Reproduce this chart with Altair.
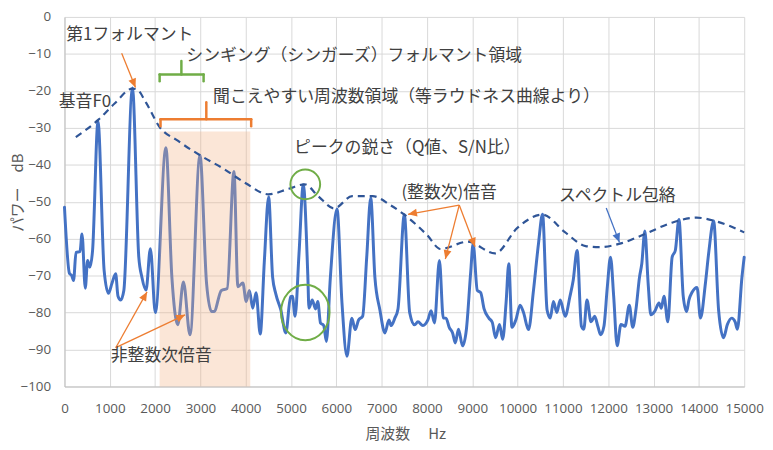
import math
import altair as alt
import pandas as pd

# ---------------- data ----------------
freq = [0, 110, 160, 200, 255, 343, 387, 459, 510, 560, 620, 740, 875, 970, 1050,
        1130, 1180, 1240, 1310, 1500, 1640, 1710, 1800, 1896, 2005, 2238, 2370,
        2500, 2625, 2770, 2990, 3135, 3245, 3300, 3463, 3590, 3740, 3827, 3937,
        4010, 4080, 4155, 4228, 4320, 4411, 4505, 4593, 4665, 4775, 4884, 4990,
        5030, 5089, 5176, 5270, 5370, 5395, 5468, 5540, 5590, 5650, 5720, 5780,
        5868, 6014, 6124, 6233, 6342, 6414, 6490, 6580, 6670, 6758, 6850, 6961,
        7071, 7160, 7210, 7290, 7360, 7500, 7618, 7727, 7800, 7910, 8020, 8090,
        8165, 8274, 8360, 8420, 8490, 8565, 8625, 8695, 8785, 8870, 8965, 9018,
        9110, 9185, 9260, 9365, 9440, 9515, 9600, 9670, 9745, 9805, 9875, 9960,
        10055, 10130, 10240, 10350, 10460, 10550, 10650, 10720, 10790, 10865,
        10940, 11050, 11153, 11226, 11313, 11408, 11460, 11530, 11620, 11700,
        11770, 11832, 11905, 11980, 12050, 12120, 12196, 12280, 12370, 12465,
        12540, 12610, 12690, 12740, 12808, 12880, 12940, 13025, 13120, 13170,
        13230, 13315, 13410, 13480, 13560, 13655, 13730, 13780, 13850, 13960,
        14035, 14145, 14220, 14325, 14435, 14543, 14630, 14725, 14800, 14850,
        14950, 15000]
power = [-51.5, -69.4, -70.0, -71.3, -63.7, -63.5, -58.7, -73.4, -65.9, -67.7, -63.2,
         -28.3, -68.6, -74.8, -72.0, -69.5, -75.5, -76.6, -74.0, -19.2, -65.0, -70.5,
         -73.9, -62.7, -80.0, -35.4, -70.4, -83.3, -71.7, -86.0, -37.4, -72.0, -79.7,
         -79.7, -74.0, -73.5, -41.8, -73.0, -72.0, -77.0, -74.0, -78.8, -74.6, -85.8,
         -66.0, -48.7, -70.4, -75.0, -79.3, -85.5, -75.7, -75.6, -81.0, -64.0, -45.4,
         -70.0, -78.8, -76.6, -79.0, -77.0, -82.8, -83.5, -87.8, -70.4, -52.0, -77.4,
         -91.8, -81.5, -84.6, -82.0, -81.0, -65.0, -49.0, -70.4, -79.3, -85.5, -82.0,
         -83.5, -81.5, -79.0, -53.5, -80.0, -83.3, -82.5, -83.5, -82.0, -79.5, -82.8,
         -65.9, -81.5, -81.5, -84.0, -85.5, -88.2, -84.5, -89.0, -84.5, -69.0, -61.4,
         -74.0, -74.6, -79.0, -81.5, -82.6, -86.8, -83.2, -87.2, -77.4, -66.8, -84.0,
         -82.0, -78.0, -80.0, -84.6, -74.0, -61.4, -53.4, -79.3, -81.5, -77.0, -80.0,
         -76.6, -81.0, -75.7, -71.3, -63.2, -83.7, -84.5, -76.6, -82.5, -81.0, -83.7,
         -86.0, -83.7, -73.0, -65.0, -75.6, -89.0, -83.2, -83.7, -78.0, -84.0, -79.3,
         -70.4, -66.8, -57.9, -72.0, -80.6, -79.7, -77.4, -78.8, -75.6, -82.5, -65.0,
         -63.2, -54.8, -75.6, -79.7, -76.6, -74.5, -73.2, -81.5, -72.0, -63.5, -55.2,
         -79.3, -86.8, -83.2, -81.5, -82.5, -84.5, -70.5, -65.0]

env_freq = [250, 750, 1100, 1500, 1600, 1800, 2100, 2500, 3000, 3500, 4000, 4500,
            4950, 5300, 5600, 5950, 6350, 6800, 7200, 7500, 8000, 8300, 8900, 9500,
            10000, 10550, 11050, 11500, 11800, 12300, 12800, 13400, 13950, 14350,
            15000]
env_power = [-32.5, -27.8, -23.5, -19.4, -19.6, -23.2, -29.8, -33.5, -37.5, -41.0,
             -45.0, -48.0, -46.5, -45.3, -48.5, -51.8, -48.5, -48.5, -51.0, -53.5,
             -59.0, -62.8, -60.8, -64.0, -57.0, -53.5, -58.3, -62.0, -62.3, -61.2,
             -58.8, -55.7, -54.3, -55.2, -58.3]

# shaded "audible" band
band_x = [2100]
band_x2 = [4100]
band_y = [-31]
band_y2 = [-100]

# green circles (centre in data units), ellipse for the lower one
circle_x = [5314, 5314]
circle_y = [-45.3, -80.0]

# brackets (segments in data units)
br_x1 = [2100, 2100, 3070, 2580, 2120, 2120, 4120, 3130]
br_y1 = [-15.6, -15.6, -15.6, -15.6, -27.7, -27.7, -27.7, -27.7]
br_x2 = [3070, 2100, 3070, 2580, 4120, 2120, 4120, 3130]
br_y2 = [-15.6, -17.4, -17.4, -11.9, -27.7, -29.6, -29.6, -23.1]
br_col = ["green"] * 4 + ["orange"] * 4

# arrows (tail -> head, data units)
ar_x1 = [1262, 1131, 1131, 8711, 8711, 8711, 11956]
ar_y1 = [-9.8, -89.5, -89.5, -50.9, -50.9, -50.9, -51.7]
ar_x2 = [1568, 1822, 2661, 7582, 8405, 9061, 12247]
ar_y2 = [-19.1, -74.4, -80.6, -53.4, -65.5, -62.2, -61.0]
ar_col = ["orange"] * 6 + ["blue"]

# annotation labels
lab_text = ["第1フォルマント", "基音F0", "シンギング（シンガーズ）フォルマント領域",
            "聞こえやすい周波数領域（等ラウドネス曲線より）", "ピークの鋭さ（Q値、S/N比）",
            "(整数次)倍音", "スペクトル包絡", "非整数次倍音"]
lab_x = [40, 450, 2690, 3280, 5067, 7436, 10913, 1021]
lab_y = [-4.9, -23.1, -10.6, -21.8, -35.6, -47.6, -48.5, -91.8]
lab_align = ["left", "center", "left", "left", "left", "left", "left", "left"]

x_ticks = list(range(0, 15001, 1000))
y_ticks = list(range(-100, 1, 10))

# ---------------- layout ----------------
W, H = 686, 373
XMAX, YMIN, YMAX = 15000, -100, 0
PX_PER_HZ = W / XMAX
PX_PER_DB = H / (YMAX - YMIN)

BLUE = "#4472C4"
NAVY = "#2F5597"
ORANGE = "#ED7D31"
GREEN = "#70AD47"
TXT = "#404040"
AX = "#595959"
JP = "Noto Sans CJK JP"
X_TITLE = "周波数　 Hz"
Y_TITLE = "パワー　dB"

xs = alt.Scale(domain=[0, XMAX], nice=False, zero=False)
ys = alt.Scale(domain=[YMIN, YMAX], nice=False, zero=False)

x_axis = alt.Axis(values=x_ticks, format="d", grid=True, gridColor="#D9D9D9",
                  domainColor="#BFBFBF", ticks=False, tickSize=0,
                  labelPadding=15, labelFlush=False, labelOverlap=False,
                  labelBound=False, labelFont="Open Sans", labelFontSize=13.5,
                  labelColor=AX, titleFont=JP, titleFontSize=15,
                  titleFontWeight="normal", titleColor=AX,
                  titleX=344, titleY=47, titleBaseline="middle")
y_axis = alt.Axis(values=y_ticks, grid=True, gridColor="#D9D9D9",
                  domainColor="#BFBFBF", ticks=False, tickSize=0,
                  labelPadding=14, labelFont="Open Sans", labelFontSize=13.5,
                  labelColor=AX, titleFont=JP, titleFontSize=15,
                  titleFontWeight="normal", titleColor=AX,
                  titleX=-47, titleY=177, titleAlign="center",
                  titleBaseline="middle")


def X(field):
    return alt.X(field, scale=xs, axis=x_axis, title=X_TITLE)


def Y(field):
    return alt.Y(field, scale=ys, axis=y_axis, title=Y_TITLE)


spec_df = pd.DataFrame({"f": freq, "p": power})
env_df = pd.DataFrame({"f": env_freq, "p": env_power})
band_df = pd.DataFrame({"x": band_x, "x2": band_x2, "y": band_y, "y2": band_y2})
circ_df = pd.DataFrame({"x": circle_x, "y": circle_y, "k": ["c", "e"]})
br_df = pd.DataFrame({"x": br_x1, "y": br_y1, "x2": br_x2, "y2": br_y2, "c": br_col})

angles = []
for x1, y1, x2, y2 in zip(ar_x1, ar_y1, ar_x2, ar_y2):
    dx = (x2 - x1) * PX_PER_HZ
    dy = -(y2 - y1) * PX_PER_DB
    angles.append(math.degrees(math.atan2(dx, -dy)) % 360)
ar_df = pd.DataFrame({"x": ar_x1, "y": ar_y1, "x2": ar_x2, "y2": ar_y2,
                      "c": ar_col, "a": angles})
lab_df = pd.DataFrame({"t": lab_text, "x": lab_x, "y": lab_y, "al": lab_align})

color_scale = alt.Scale(domain=["green", "orange", "blue"], range=[GREEN, ORANGE, BLUE])

spectrum = alt.Chart(spec_df).mark_line(
    color=BLUE, strokeWidth=3, interpolate="monotone", strokeJoin="round", strokeCap="round"
).encode(x=X("f:Q"), y=Y("p:Q"))

band = alt.Chart(band_df).mark_rect(color="#F4B183", opacity=0.32).encode(
    x=X("x:Q"), x2="x2:Q", y=Y("y:Q"), y2="y2:Q",
)

envelope = alt.Chart(env_df).mark_line(
    color=NAVY, strokeWidth=2.2, strokeDash=[7, 5], interpolate="monotone"
).encode(x=X("f:Q"), y=Y("p:Q"))

k = 0.5523
a, b = 0.875, 1.0
ellipse_path = (f"M{a},0 C{a},{k*b} {k*a},{b} 0,{b} C{-k*a},{b} {-a},{k*b} {-a},0 "
                f"C{-a},{-k*b} {-k*a},{-b} 0,{-b} C{k*a},{-b} {a},{-k*b} {a},0 Z")

circle1 = alt.Chart(circ_df[circ_df.k == "c"]).mark_point(
    shape="circle", size=900, filled=False, stroke=GREEN, strokeWidth=2, opacity=1
).encode(x=X("x:Q"), y=Y("y:Q"))

circle2 = alt.Chart(circ_df[circ_df.k == "e"]).mark_point(
    shape=ellipse_path, size=3136, filled=False, stroke=GREEN, strokeWidth=2, opacity=1
).encode(x=X("x:Q"), y=Y("y:Q"))

brackets = alt.Chart(br_df).mark_rule(strokeWidth=2.5, strokeCap="round").encode(
    x=X("x:Q"), y=Y("y:Q"), x2="x2:Q", y2="y2:Q",
    color=alt.Color("c:N", scale=color_scale, legend=None),
)

arrow_lines = alt.Chart(ar_df).mark_rule(strokeWidth=1.3).encode(
    x=X("x:Q"), y=Y("y:Q"), x2="x2:Q", y2="y2:Q",
    color=alt.Color("c:N", scale=color_scale, legend=None),
)

arrow_heads = alt.Chart(ar_df).mark_point(
    shape="M0,0 L-0.8,1.8 L0.8,1.8 Z", size=100, filled=True, opacity=1
).encode(
    x=X("x2:Q"), y=Y("y2:Q"),
    angle=alt.Angle("a:Q", scale=None),
    color=alt.Color("c:N", scale=color_scale, legend=None),
)

labels_left = alt.Chart(lab_df[lab_df.al == "left"]).mark_text(
    font=JP, fontSize=17, color=TXT, align="left", baseline="middle"
).encode(x=X("x:Q"), y=Y("y:Q"), text="t:N")

labels_center = alt.Chart(lab_df[lab_df.al == "center"]).mark_text(
    font=JP, fontSize=17, color=TXT, align="center", baseline="middle"
).encode(x=X("x:Q"), y=Y("y:Q"), text="t:N")

chart = alt.layer(
    spectrum, band, envelope, circle1, circle2, brackets, arrow_lines, arrow_heads,
    labels_left, labels_center
).properties(
    width=W, height=H,
    autosize=alt.AutoSizeParams(type="none"),
    padding={"left": 57, "top": 7, "right": 21, "bottom": 54},
    background="white",
).configure_view(stroke=None)

chart.save("out.html", embed_options={"renderer": "svg", "actions": False})
